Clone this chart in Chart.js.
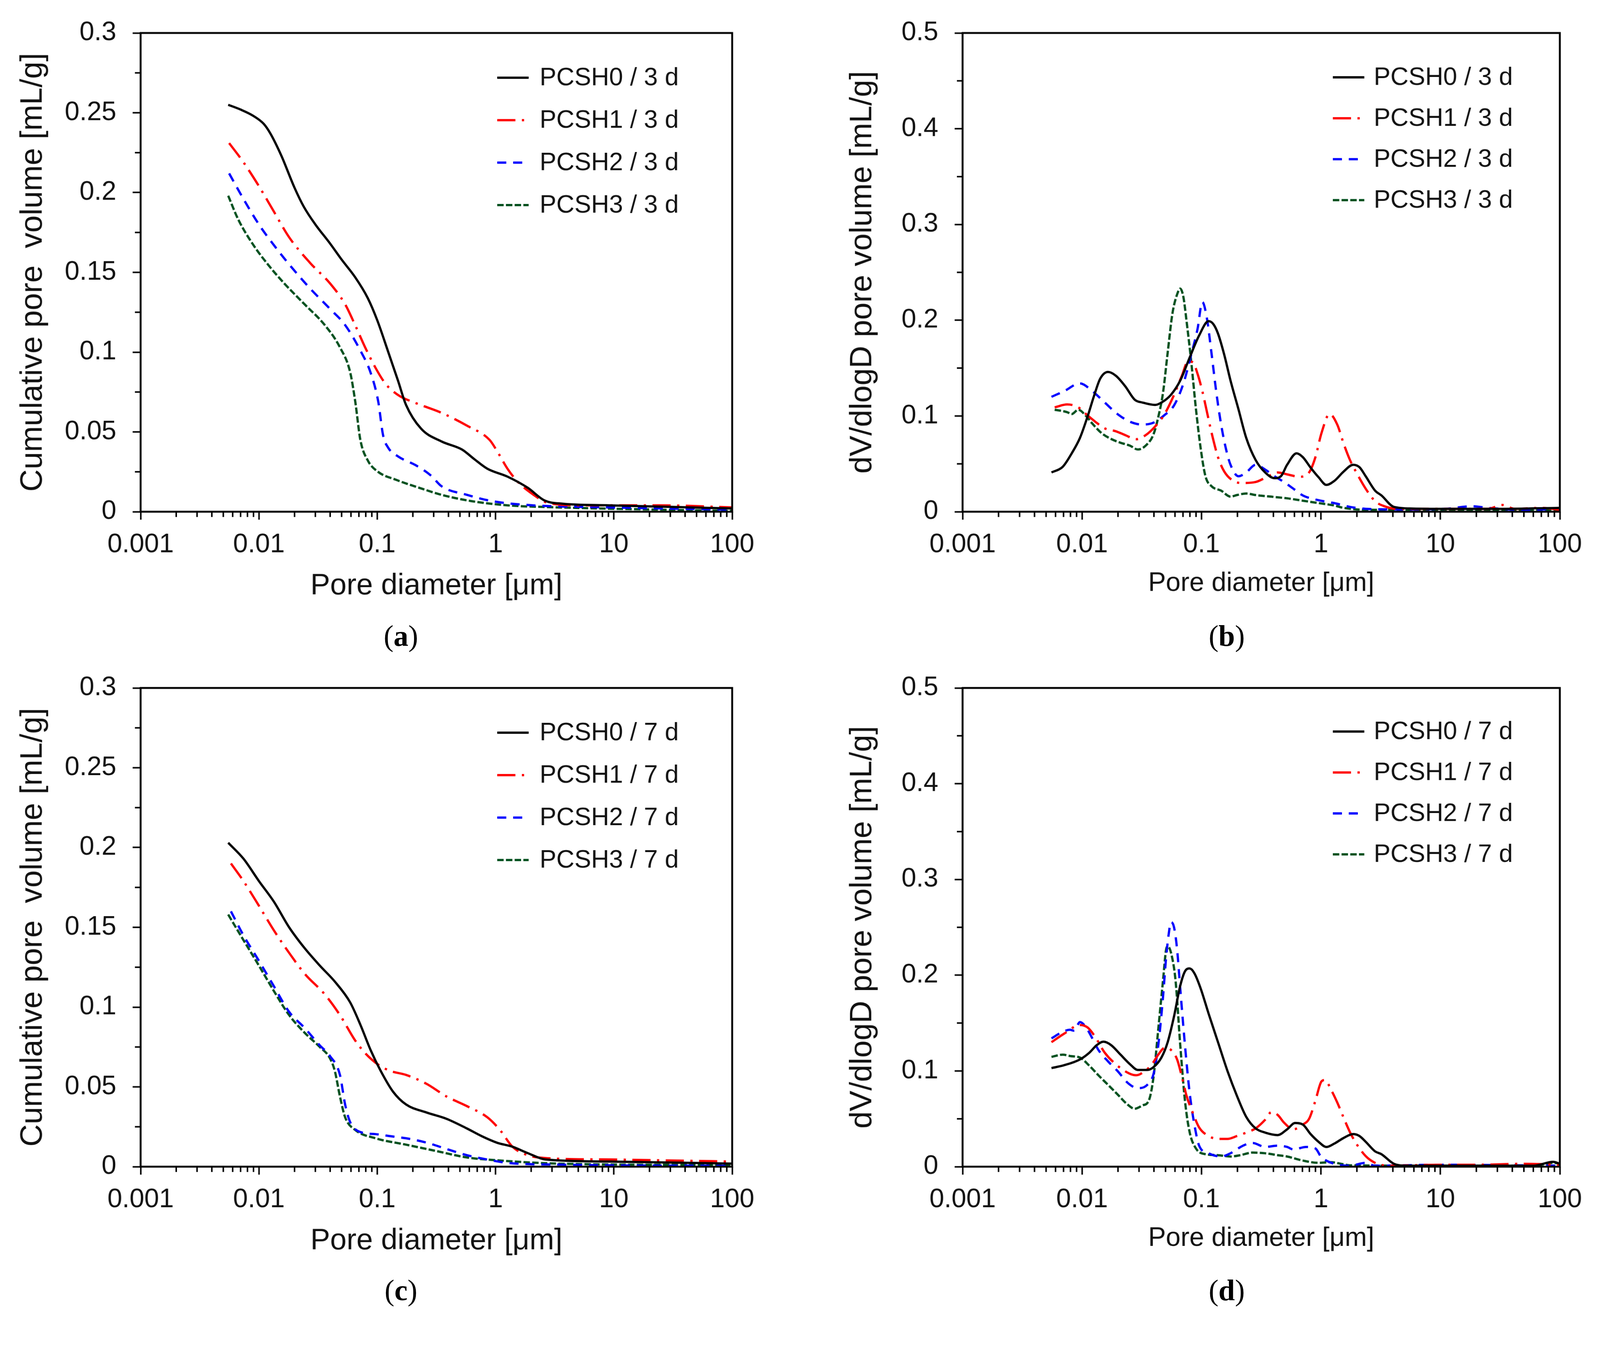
<!DOCTYPE html>
<html>
<head>
<meta charset="utf-8">
<script src="https://cdn.jsdelivr.net/npm/chart.js@4.4.0/dist/chart.umd.min.js"></script>
<style>
  html, body { margin: 0; padding: 0; background: #fff; overflow: hidden; }
  #page { width: 4222px; height: 3481px; position: absolute; left: 0; top: 0; transform-origin: 0 0; background: #fff; }
  canvas { position: absolute; }
  .cap { position: absolute; font-family: "Liberation Serif", "DejaVu Serif", serif; font-size: 78px; color: #000;
         transform: translate(-50%, -50%); white-space: nowrap; line-height: 1; }
</style>
</head>
<body>
<div id="page">
<canvas id="chartA" width="2111" height="1640" style="left:0px;top:0px"></canvas>
<canvas id="chartB" width="2111" height="1640" style="left:2111px;top:0px"></canvas>
<canvas id="chartC" width="2111" height="1640" style="left:0px;top:1728px"></canvas>
<canvas id="chartD" width="2111" height="1640" style="left:2111px;top:1728px"></canvas>
<div class="cap" style="left:1058px;top:1678px">(<b>a</b>)</div>
<div class="cap" style="left:3237px;top:1678px">(<b>b</b>)</div>
<div class="cap" style="left:1058px;top:3404px">(<b>c</b>)</div>
<div class="cap" style="left:3237px;top:3404px">(<b>d</b>)</div>
</div>
<script>
// Fit the 4222x3481 page into whatever viewport we get
const pageScale = Math.min(window.innerWidth / 4222, window.innerHeight / 3481);
document.getElementById('page').style.transform = 'scale(' + pageScale + ')';

// Series names
const names3d = ['PCSH0 / 3 d', 'PCSH1 / 3 d', 'PCSH2 / 3 d', 'PCSH3 / 3 d'];
const names7d = ['PCSH0 / 7 d', 'PCSH1 / 7 d', 'PCSH2 / 7 d', 'PCSH3 / 7 d'];

// Tick values and labels
const xTickValues = [0.001, 0.01, 0.1, 1, 10, 100];
const xTickLabels = ['0.001', '0.01', '0.1', '1', '10', '100'];
const yTicksCum = [0, 0.05, 0.1, 0.15, 0.2, 0.25, 0.3];
const yLabelsCum = ['0', '0.05', '0.1', '0.15', '0.2', '0.25', '0.3'];
const yMinorCum = [0.025, 0.075, 0.125, 0.175, 0.225, 0.275];
const yTicksDiff = [0, 0.1, 0.2, 0.3, 0.4, 0.5];
const yLabelsDiff = ['0', '0.1', '0.2', '0.3', '0.4', '0.5'];
const yMinorDiff = [0.05, 0.15, 0.25, 0.35, 0.45];

// (a) cumulative pore volume, 3 d  [diameter um, mL/g]
const cum3_PCSH0 = [[0.0055,0.255],[0.007,0.252],[0.009,0.248],[0.011,0.243],[0.0125,0.237],[0.0155,0.223],[0.02,0.203],[0.024,0.191],[0.03,0.180],[0.04,0.168],[0.05,0.158],[0.065,0.147],[0.083,0.134],[0.1,0.12],[0.124,0.1],[0.15,0.082],[0.175,0.067],[0.235,0.052],[0.35,0.044],[0.52,0.039],[0.66,0.033],[0.85,0.027],[1.26,0.022],[1.87,0.015],[2.6,0.007],[3.7,0.005],[9,0.004],[30,0.003],[100,0.002]];
const cum3_PCSH1 = [[0.0056,0.231],[0.0074,0.219],[0.01,0.204],[0.0134,0.188],[0.018,0.172],[0.027,0.156],[0.04,0.143],[0.0535,0.13],[0.065,0.117],[0.079,0.103],[0.097,0.09],[0.118,0.08],[0.151,0.073],[0.213,0.068],[0.349,0.062],[0.571,0.054],[0.89,0.045],[1.03,0.038],[1.26,0.027],[1.53,0.019],[2.06,0.011],[2.78,0.0055],[5.5,0.004],[24,0.004],[100,0.0027]];
const cum3_PCSH2 = [[0.0056,0.212],[0.0074,0.196],[0.01,0.18],[0.0134,0.167],[0.018,0.155],[0.027,0.14],[0.04,0.127],[0.0535,0.117],[0.072,0.101],[0.088,0.087],[0.102,0.069],[0.112,0.048],[0.124,0.04],[0.151,0.0345],[0.213,0.029],[0.286,0.0225],[0.349,0.016],[0.571,0.0106],[0.94,0.0066],[2.06,0.004],[9.1,0.0027],[100,0.0013]];
const cum3_PCSH3 = [[0.0055,0.198],[0.0067,0.183],[0.009,0.167],[0.0122,0.154],[0.0164,0.143],[0.0243,0.13],[0.036,0.117],[0.0484,0.103],[0.059,0.0875],[0.0652,0.069],[0.072,0.045],[0.0834,0.032],[0.1016,0.025],[0.144,0.02],[0.235,0.0146],[0.349,0.0106],[0.63,0.0066],[1.26,0.004],[3.4,0.0027],[24,0.0013],[100,0.0005]];

// (b) dV/dlogD, 3 d
const diff3_PCSH0 = [[0.00555,0.041],[0.0069,0.047],[0.0082,0.061],[0.0096,0.077],[0.0111,0.099],[0.0126,0.121],[0.0142,0.139],[0.0165,0.146],[0.0192,0.142],[0.023,0.131],[0.0276,0.117],[0.0321,0.114],[0.0409,0.1115],[0.0462,0.114],[0.0554,0.122],[0.0664,0.137],[0.0796,0.161],[0.0955,0.184],[0.1146,0.199],[0.1255,0.196],[0.1375,0.186],[0.155,0.164],[0.175,0.137],[0.204,0.107],[0.237,0.077],[0.284,0.054],[0.341,0.041],[0.409,0.035],[0.462,0.037],[0.521,0.049],[0.625,0.061],[0.705,0.057],[0.82,0.046],[0.955,0.036],[1.11,0.028],[1.29,0.032],[1.55,0.042],[1.86,0.049],[2.1,0.0465],[2.37,0.037],[2.84,0.022],[3.21,0.017],[4.08,0.005],[5.9,0.0033],[10.8,0.003],[30,0.003],[100,0.004]];
const diff3_PCSH1 = [[0.0059,0.109],[0.0075,0.112],[0.0093,0.109],[0.0108,0.102],[0.0129,0.094],[0.0155,0.087],[0.0192,0.084],[0.023,0.08],[0.0284,0.0757],[0.0341,0.08],[0.0409,0.089],[0.0491,0.102],[0.0589,0.122],[0.0685,0.142],[0.0772,0.157],[0.0847,0.156],[0.0927,0.144],[0.1016,0.126],[0.1112,0.104],[0.1217,0.082],[0.1375,0.057],[0.155,0.042],[0.186,0.032],[0.223,0.03],[0.284,0.031],[0.362,0.037],[0.435,0.041],[0.521,0.039],[0.664,0.0365],[0.796,0.041],[0.899,0.057],[1.01,0.082],[1.18,0.102],[1.37,0.091],[1.55,0.071],[1.75,0.054],[1.98,0.041],[2.37,0.024],[2.84,0.011],[3.4,0.0057],[4.34,0.003],[15,0.003],[25,0.003],[33,0.007],[42,0.003],[70,0.004],[100,0.002]];
const diff3_PCSH2 = [[0.00555,0.12],[0.0071,0.126],[0.0096,0.134],[0.0122,0.126],[0.0155,0.114],[0.0198,0.102],[0.0252,0.094],[0.0321,0.091],[0.0397,0.093],[0.0491,0.101],[0.0589,0.111],[0.0706,0.134],[0.082,0.164],[0.0927,0.191],[0.1016,0.219],[0.111,0.202],[0.1217,0.164],[0.1333,0.124],[0.146,0.091],[0.16,0.066],[0.175,0.049],[0.204,0.037],[0.237,0.041],[0.284,0.049],[0.341,0.044],[0.409,0.037],[0.491,0.031],[0.588,0.024],[0.705,0.017],[0.955,0.012],[1.29,0.009],[1.75,0.005],[2.37,0.003],[4.34,0.0024],[10.8,0.003],[18.6,0.0057],[25,0.004],[50,0.002],[100,0.003]];
const diff3_PCSH3 = [[0.0059,0.1065],[0.0075,0.104],[0.0082,0.102],[0.0093,0.1065],[0.0108,0.1],[0.0122,0.092],[0.0146,0.082],[0.0175,0.076],[0.021,0.072],[0.0252,0.069],[0.0293,0.065],[0.0341,0.069],[0.0397,0.081],[0.0435,0.099],[0.0476,0.124],[0.0521,0.166],[0.0571,0.207],[0.0625,0.227],[0.0664,0.233],[0.0706,0.224],[0.075,0.199],[0.082,0.157],[0.0899,0.107],[0.0985,0.066],[0.108,0.037],[0.1217,0.0265],[0.146,0.022],[0.175,0.0157],[0.198,0.0174],[0.237,0.019],[0.284,0.0174],[0.385,0.0157],[0.521,0.014],[0.705,0.0115],[0.955,0.009],[1.29,0.0065],[1.55,0.004],[2.37,0.002],[10,0.002],[100,0.002]];

// (c) cumulative pore volume, 7 d
const cum7_PCSH0 = [[0.0055,0.203],[0.0074,0.193],[0.01,0.179],[0.0134,0.166],[0.018,0.15],[0.0243,0.137],[0.0327,0.126],[0.0438,0.116],[0.059,0.103],[0.072,0.089],[0.088,0.073],[0.107,0.06],[0.136,0.047],[0.175,0.039],[0.26,0.034],[0.385,0.03],[0.571,0.024],[0.77,0.019],[1.03,0.015],[1.39,0.0125],[1.87,0.0085],[2.64,0.0045],[9.1,0.0032],[100,0.0019]];
const cum7_PCSH1 = [[0.0058,0.19],[0.0074,0.179],[0.01,0.1635],[0.0134,0.148],[0.018,0.134],[0.0243,0.121],[0.036,0.108],[0.0484,0.095],[0.0652,0.079],[0.0794,0.071],[0.1016,0.064],[0.129,0.06],[0.175,0.0575],[0.26,0.052],[0.385,0.044],[0.571,0.038],[0.85,0.031],[1.09,0.023],[1.39,0.0125],[1.87,0.0072],[2.78,0.0053],[9.1,0.0045],[100,0.0032]];
const cum7_PCSH2 = [[0.0058,0.16],[0.0074,0.145],[0.01,0.129],[0.0134,0.113],[0.018,0.097],[0.0243,0.087],[0.0327,0.076],[0.0398,0.0694],[0.0484,0.0575],[0.0535,0.039],[0.059,0.028],[0.072,0.0217],[0.0967,0.0204],[0.129,0.0191],[0.175,0.0178],[0.26,0.0151],[0.385,0.0111],[0.571,0.0072],[0.85,0.0045],[1.26,0.0024],[3.4,0.0013],[100,0.0005]];
const cum7_PCSH3 = [[0.0055,0.158],[0.0074,0.142],[0.01,0.126],[0.0134,0.11],[0.018,0.095],[0.0243,0.084],[0.0327,0.075],[0.0398,0.068],[0.0438,0.06],[0.0484,0.044],[0.0535,0.031],[0.0652,0.023],[0.0967,0.0178],[0.175,0.0138],[0.316,0.0098],[0.571,0.0058],[1.03,0.004],[3.4,0.0019],[100,0.001]];

// (d) dV/dlogD, 7 d
const diff7_PCSH0 = [[0.00555,0.103],[0.0071,0.106],[0.0096,0.112],[0.0115,0.119],[0.0133,0.127],[0.0151,0.1305],[0.0175,0.127],[0.021,0.117],[0.0252,0.107],[0.0293,0.101],[0.0352,0.101],[0.0397,0.104],[0.0462,0.114],[0.0521,0.13],[0.0589,0.157],[0.0664,0.189],[0.0727,0.204],[0.0796,0.207],[0.0872,0.202],[0.0985,0.186],[0.1146,0.16],[0.1375,0.13],[0.165,0.1],[0.198,0.074],[0.237,0.052],[0.284,0.04],[0.341,0.0356],[0.435,0.033],[0.521,0.039],[0.607,0.0456],[0.705,0.044],[0.82,0.034],[0.955,0.026],[1.11,0.0206],[1.29,0.024],[1.55,0.03],[1.86,0.034],[2.1,0.032],[2.37,0.026],[2.84,0.016],[3.21,0.013],[4.08,0.003],[5.2,0.001],[60,0.001],[88,0.005],[100,0.003]];
const diff7_PCSH1 = [[0.00555,0.13],[0.0071,0.139],[0.0096,0.148],[0.0111,0.1455],[0.0129,0.1355],[0.0155,0.119],[0.0198,0.1055],[0.0252,0.097],[0.0284,0.0955],[0.0341,0.1005],[0.0385,0.107],[0.0435,0.117],[0.0491,0.124],[0.0554,0.122],[0.0625,0.112],[0.0685,0.094],[0.075,0.074],[0.0847,0.056],[0.0955,0.041],[0.1146,0.032],[0.1375,0.029],[0.165,0.029],[0.198,0.032],[0.237,0.0356],[0.284,0.04],[0.341,0.049],[0.385,0.057],[0.435,0.054],[0.491,0.046],[0.588,0.039],[0.705,0.044],[0.796,0.05],[0.899,0.069],[1.01,0.089],[1.08,0.0905],[1.22,0.08],[1.37,0.067],[1.55,0.051],[1.75,0.036],[1.98,0.024],[2.37,0.011],[2.84,0.004],[3.62,0.001],[10,0.002],[20,0.002],[50,0.003],[100,0.002]];
const diff7_PCSH2 = [[0.00555,0.134],[0.0067,0.14],[0.0079,0.143],[0.0086,0.142],[0.0096,0.151],[0.0108,0.1455],[0.0122,0.134],[0.0137,0.122],[0.0165,0.11],[0.0198,0.1],[0.0244,0.087],[0.0293,0.082],[0.0352,0.0855],[0.0397,0.097],[0.0435,0.127],[0.0476,0.177],[0.0506,0.219],[0.0537,0.247],[0.0554,0.2555],[0.0589,0.25],[0.0625,0.227],[0.0664,0.186],[0.0727,0.127],[0.0796,0.077],[0.0872,0.044],[0.0955,0.022],[0.1146,0.014],[0.146,0.0106],[0.175,0.014],[0.223,0.022],[0.268,0.0247],[0.341,0.0206],[0.435,0.022],[0.521,0.0206],[0.588,0.018],[0.75,0.0206],[0.9,0.019],[1.0,0.0106],[1.29,0.003],[1.75,0.001],[2.37,0.004],[2.84,0.001],[10,0.002],[100,0.001]];
const diff7_PCSH3 = [[0.00555,0.1147],[0.0069,0.117],[0.008,0.1155],[0.0096,0.114],[0.0115,0.1055],[0.0137,0.0955],[0.0165,0.0855],[0.0198,0.0756],[0.0237,0.0656],[0.0276,0.0605],[0.0321,0.064],[0.0362,0.069],[0.0397,0.094],[0.0435,0.144],[0.0476,0.194],[0.0506,0.227],[0.0521,0.23],[0.0554,0.224],[0.0607,0.194],[0.0664,0.127],[0.0727,0.069],[0.0796,0.036],[0.0899,0.019],[0.108,0.013],[0.1375,0.012],[0.175,0.0106],[0.211,0.012],[0.268,0.0147],[0.341,0.014],[0.435,0.012],[0.521,0.0106],[0.705,0.0064],[0.955,0.004],[1.22,0.0047],[1.47,0.003],[1.75,0.0014],[10,0.001],[60,0.001],[90,0.004],[100,0.003]];

// Line styles per series (PCSH0..PCSH3)
const seriesColors = ['#000000', '#ff0000', '#0000ff', '#00501e'];
const seriesDash = [[], [48, 17, 6, 17], [24, 18], [17, 6]];

Chart.defaults.font.family = '"Liberation Sans", Arial, sans-serif';
Chart.defaults.color = '#111';

// Frame, minor ticks and the in-plot legend
const framePlugin = {
    id: 'frameLegend',
    afterDraw(chart, args, opts) {
        const { ctx, chartArea: a, scales: { x, y } } = chart;
        ctx.save();
        ctx.strokeStyle = '#000';
        ctx.lineWidth = 5;
        ctx.strokeRect(a.left, a.top, a.right - a.left, a.bottom - a.top);

        // minor ticks
        ctx.lineWidth = 4;
        ctx.beginPath();
        for (let e = -3; e < 2; e++) {
            for (let k = 2; k <= 9; k++) {
                const px = x.getPixelForValue(k * Math.pow(10, e));
                ctx.moveTo(px, a.bottom);
                ctx.lineTo(px, a.bottom + 14);
            }
        }
        opts.yMinor.forEach(v => {
            const py = y.getPixelForValue(v);
            ctx.moveTo(a.left, py);
            ctx.lineTo(a.left - 15, py);
        });
        ctx.stroke();

        // legend
        ctx.font = '66px "Liberation Sans", Arial, sans-serif';
        ctx.textBaseline = 'middle';
        ctx.textAlign = 'left';
        chart.data.datasets.forEach((ds, i) => {
            const ly = a.top + opts.top + i * opts.gap;
            const lx = a.left + opts.left;
            ctx.beginPath();
            ctx.setLineDash(ds.borderDash);
            ctx.strokeStyle = ds.borderColor;
            ctx.lineWidth = ds.borderWidth;
            ctx.moveTo(lx, ly);
            ctx.lineTo(lx + 83, ly);
            ctx.stroke();
            ctx.setLineDash([]);
            ctx.fillStyle = '#111';
            ctx.fillText(ds.label, lx + opts.textOffset, ly + 2);
        });
        ctx.restore();
    }
};

function makeChart(id, cfg) {
    const ctx = document.getElementById(id).getContext('2d');
    return new Chart(ctx, {
        type: 'line',
        data: {
            datasets: cfg.series.map((s, i) => ({
                label: cfg.names[i],
                data: s.map(p => ({ x: p[0], y: p[1] })),
                borderColor: seriesColors[i],
                borderDash: seriesDash[i],
                borderWidth: 6,
                pointRadius: 0,
                cubicInterpolationMode: 'monotone',
                fill: false
            }))
        },
        options: {
            responsive: false,
            animation: false,
            devicePixelRatio: 1,
            layout: { padding: { top: 87, right: cfg.padRight, left: 0, bottom: 0 } },
            plugins: {
                legend: { display: false },
                tooltip: { enabled: false },
                frameLegend: cfg.legend
            },
            scales: {
                x: {
                    type: 'logarithmic',
                    min: 0.001,
                    max: 100,
                    border: { display: false },
                    grid: { drawOnChartArea: false, tickLength: 21, tickWidth: 4, tickColor: '#000' },
                    afterBuildTicks: s => { s.ticks = xTickValues.map(v => ({ value: v })); },
                    afterFit: s => { s.height = 290; },
                    ticks: {
                        padding: 25,
                        maxRotation: 0,
                        autoSkip: false,
                        font: { size: 70 },
                        callback: (v, i) => xTickLabels[i]
                    },
                    title: {
                        display: true,
                        text: 'Pore diameter [\u03bcm]',
                        font: { size: cfg.xTitleSize },
                        color: '#111',
                        padding: { top: 0, bottom: cfg.xTitlePad }
                    }
                },
                y: {
                    type: 'linear',
                    min: 0,
                    max: cfg.yMax,
                    border: { display: false },
                    grid: { drawOnChartArea: false, tickLength: 21, tickWidth: 4, tickColor: '#000' },
                    afterBuildTicks: s => { s.ticks = cfg.yTicks.map(v => ({ value: v })); },
                    afterFit: s => { s.width = cfg.yWidth; },
                    ticks: {
                        padding: 43,
                        font: { size: 70 },
                        callback: (v, i) => cfg.yLabels[i]
                    },
                    title: {
                        display: true,
                        text: cfg.yTitle,
                        font: { size: 82 },
                        color: '#111',
                        padding: { top: cfg.yTitlePad, bottom: 0 }
                    }
                }
            }
        },
        plugins: [framePlugin]
    });
}

const cumCfg = {
    yMax: 0.3, yTicks: yTicksCum, yLabels: yLabelsCum,
    yTitle: 'Cumulative pore  volume [mL/g]',
    yWidth: 371, yTitlePad: 38, padRight: 179,
    xTitleSize: 78, xTitlePad: 47
};
const diffCfg = {
    yMax: 0.5, yTicks: yTicksDiff, yLabels: yLabelsDiff,
    yTitle: 'dV/dlogD pore volume [mL/g]',
    yWidth: 429, yTitlePad: 116, padRight: 106,
    xTitleSize: 70, xTitlePad: 58
};

makeChart('chartA', Object.assign({}, cumCfg, {
    names: names3d,
    series: [cum3_PCSH0, cum3_PCSH1, cum3_PCSH2, cum3_PCSH3],
    legend: { yMinor: yMinorCum, left: 941, top: 118, gap: 112, textOffset: 112 }
}));
makeChart('chartB', Object.assign({}, diffCfg, {
    names: names3d,
    series: [diff3_PCSH0, diff3_PCSH1, diff3_PCSH2, diff3_PCSH3],
    legend: { yMinor: yMinorDiff, left: 977, top: 117, gap: 108, textOffset: 108 }
}));
makeChart('chartC', Object.assign({}, cumCfg, {
    names: names7d,
    series: [cum7_PCSH0, cum7_PCSH1, cum7_PCSH2, cum7_PCSH3],
    legend: { yMinor: yMinorCum, left: 941, top: 118, gap: 112, textOffset: 112 }
}));
makeChart('chartD', Object.assign({}, diffCfg, {
    names: names7d,
    series: [diff7_PCSH0, diff7_PCSH1, diff7_PCSH2, diff7_PCSH3],
    legend: { yMinor: yMinorDiff, left: 977, top: 115, gap: 108, textOffset: 108 }
}));
</script>
</body>
</html>
